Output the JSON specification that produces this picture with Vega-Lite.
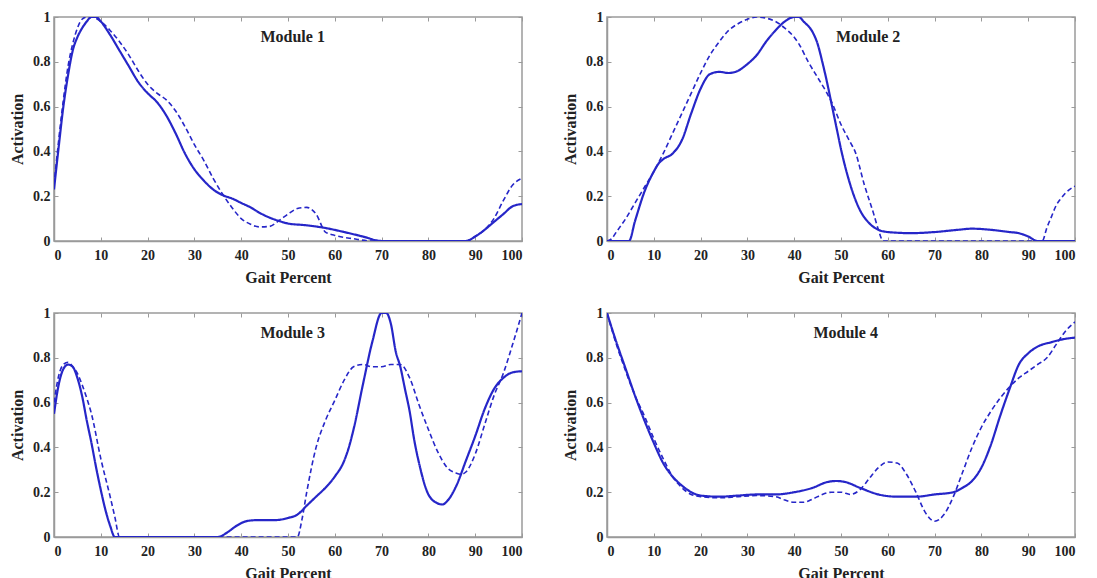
{
  "$schema": "https://vega.github.io/schema/vega-lite/v6.json",
  "background": "white",
  "padding": {"left": 8, "top": 9, "right": 5, "bottom": 0},
  "datasets": {
    "curves": [
      {"module":"Module 1","series":"solid","pct":0,"act":0.23},{"module":"Module 1","series":"solid","pct":1,"act":0.42},{"module":"Module 1","series":"solid","pct":2,"act":0.6},{"module":"Module 1","series":"solid","pct":3,"act":0.74},{"module":"Module 1","series":"solid","pct":4,"act":0.85},{"module":"Module 1","series":"solid","pct":5,"act":0.91},{"module":"Module 1","series":"solid","pct":6,"act":0.95},{"module":"Module 1","series":"solid","pct":7,"act":0.98},{"module":"Module 1","series":"solid","pct":8,"act":1.0},{"module":"Module 1","series":"solid","pct":9,"act":1.0},{"module":"Module 1","series":"solid","pct":10,"act":0.98},{"module":"Module 1","series":"solid","pct":12,"act":0.92},{"module":"Module 1","series":"solid","pct":14,"act":0.85},{"module":"Module 1","series":"solid","pct":16,"act":0.78},{"module":"Module 1","series":"solid","pct":18,"act":0.71},{"module":"Module 1","series":"solid","pct":20,"act":0.66},{"module":"Module 1","series":"solid","pct":22,"act":0.62},{"module":"Module 1","series":"solid","pct":24,"act":0.56},{"module":"Module 1","series":"solid","pct":26,"act":0.48},{"module":"Module 1","series":"solid","pct":28,"act":0.39},{"module":"Module 1","series":"solid","pct":30,"act":0.32},{"module":"Module 1","series":"solid","pct":32,"act":0.27},{"module":"Module 1","series":"solid","pct":34,"act":0.23},{"module":"Module 1","series":"solid","pct":36,"act":0.205},{"module":"Module 1","series":"solid","pct":38,"act":0.19},{"module":"Module 1","series":"solid","pct":40,"act":0.17},{"module":"Module 1","series":"solid","pct":42,"act":0.15},{"module":"Module 1","series":"solid","pct":44,"act":0.125},{"module":"Module 1","series":"solid","pct":46,"act":0.105},{"module":"Module 1","series":"solid","pct":48,"act":0.09},{"module":"Module 1","series":"solid","pct":50,"act":0.078},{"module":"Module 1","series":"solid","pct":54,"act":0.07},{"module":"Module 1","series":"solid","pct":58,"act":0.058},{"module":"Module 1","series":"solid","pct":62,"act":0.04},{"module":"Module 1","series":"solid","pct":66,"act":0.02},{"module":"Module 1","series":"solid","pct":70,"act":0.0},{"module":"Module 1","series":"solid","pct":88,"act":0.0},{"module":"Module 1","series":"solid","pct":90,"act":0.02},{"module":"Module 1","series":"solid","pct":92,"act":0.05},{"module":"Module 1","series":"solid","pct":94,"act":0.085},{"module":"Module 1","series":"solid","pct":96,"act":0.12},{"module":"Module 1","series":"solid","pct":98,"act":0.155},{"module":"Module 1","series":"solid","pct":100,"act":0.165},
      {"module":"Module 1","series":"dashed","pct":0,"act":0.25},{"module":"Module 1","series":"dashed","pct":1,"act":0.45},{"module":"Module 1","series":"dashed","pct":2,"act":0.63},{"module":"Module 1","series":"dashed","pct":3,"act":0.78},{"module":"Module 1","series":"dashed","pct":4,"act":0.88},{"module":"Module 1","series":"dashed","pct":5,"act":0.95},{"module":"Module 1","series":"dashed","pct":6,"act":0.99},{"module":"Module 1","series":"dashed","pct":7,"act":1.0},{"module":"Module 1","series":"dashed","pct":8,"act":1.0},{"module":"Module 1","series":"dashed","pct":10,"act":0.98},{"module":"Module 1","series":"dashed","pct":12,"act":0.94},{"module":"Module 1","series":"dashed","pct":14,"act":0.89},{"module":"Module 1","series":"dashed","pct":16,"act":0.83},{"module":"Module 1","series":"dashed","pct":18,"act":0.76},{"module":"Module 1","series":"dashed","pct":20,"act":0.7},{"module":"Module 1","series":"dashed","pct":22,"act":0.66},{"module":"Module 1","series":"dashed","pct":24,"act":0.63},{"module":"Module 1","series":"dashed","pct":26,"act":0.58},{"module":"Module 1","series":"dashed","pct":28,"act":0.51},{"module":"Module 1","series":"dashed","pct":30,"act":0.43},{"module":"Module 1","series":"dashed","pct":32,"act":0.36},{"module":"Module 1","series":"dashed","pct":34,"act":0.28},{"module":"Module 1","series":"dashed","pct":36,"act":0.21},{"module":"Module 1","series":"dashed","pct":38,"act":0.15},{"module":"Module 1","series":"dashed","pct":40,"act":0.1},{"module":"Module 1","series":"dashed","pct":42,"act":0.075},{"module":"Module 1","series":"dashed","pct":44,"act":0.063},{"module":"Module 1","series":"dashed","pct":46,"act":0.065},{"module":"Module 1","series":"dashed","pct":48,"act":0.09},{"module":"Module 1","series":"dashed","pct":50,"act":0.12},{"module":"Module 1","series":"dashed","pct":52,"act":0.145},{"module":"Module 1","series":"dashed","pct":54,"act":0.15},{"module":"Module 1","series":"dashed","pct":56,"act":0.12},{"module":"Module 1","series":"dashed","pct":58,"act":0.04},{"module":"Module 1","series":"dashed","pct":60,"act":0.025},{"module":"Module 1","series":"dashed","pct":64,"act":0.01},{"module":"Module 1","series":"dashed","pct":68,"act":0.0},{"module":"Module 1","series":"dashed","pct":88,"act":0.0},{"module":"Module 1","series":"dashed","pct":90,"act":0.02},{"module":"Module 1","series":"dashed","pct":92,"act":0.05},{"module":"Module 1","series":"dashed","pct":94,"act":0.1},{"module":"Module 1","series":"dashed","pct":96,"act":0.18},{"module":"Module 1","series":"dashed","pct":98,"act":0.25},{"module":"Module 1","series":"dashed","pct":100,"act":0.28},
      {"module":"Module 2","series":"solid","pct":0,"act":0.0},{"module":"Module 2","series":"solid","pct":4.7,"act":0.0},{"module":"Module 2","series":"solid","pct":6,"act":0.09},{"module":"Module 2","series":"solid","pct":8,"act":0.22},{"module":"Module 2","series":"solid","pct":10,"act":0.31},{"module":"Module 2","series":"solid","pct":11,"act":0.345},{"module":"Module 2","series":"solid","pct":12,"act":0.365},{"module":"Module 2","series":"solid","pct":14,"act":0.39},{"module":"Module 2","series":"solid","pct":16,"act":0.45},{"module":"Module 2","series":"solid","pct":18,"act":0.57},{"module":"Module 2","series":"solid","pct":20,"act":0.68},{"module":"Module 2","series":"solid","pct":22,"act":0.745},{"module":"Module 2","series":"solid","pct":24,"act":0.755},{"module":"Module 2","series":"solid","pct":26,"act":0.75},{"module":"Module 2","series":"solid","pct":28,"act":0.76},{"module":"Module 2","series":"solid","pct":30,"act":0.79},{"module":"Module 2","series":"solid","pct":32,"act":0.83},{"module":"Module 2","series":"solid","pct":34,"act":0.89},{"module":"Module 2","series":"solid","pct":36,"act":0.94},{"module":"Module 2","series":"solid","pct":38,"act":0.98},{"module":"Module 2","series":"solid","pct":40,"act":1.0},{"module":"Module 2","series":"solid","pct":41,"act":1.0},{"module":"Module 2","series":"solid","pct":42,"act":0.98},{"module":"Module 2","series":"solid","pct":44,"act":0.93},{"module":"Module 2","series":"solid","pct":45,"act":0.88},{"module":"Module 2","series":"solid","pct":46,"act":0.8},{"module":"Module 2","series":"solid","pct":47,"act":0.71},{"module":"Module 2","series":"solid","pct":48,"act":0.61},{"module":"Module 2","series":"solid","pct":49,"act":0.51},{"module":"Module 2","series":"solid","pct":50,"act":0.41},{"module":"Module 2","series":"solid","pct":52,"act":0.25},{"module":"Module 2","series":"solid","pct":54,"act":0.14},{"module":"Module 2","series":"solid","pct":56,"act":0.08},{"module":"Module 2","series":"solid","pct":58,"act":0.05},{"module":"Module 2","series":"solid","pct":60,"act":0.04},{"module":"Module 2","series":"solid","pct":65,"act":0.035},{"module":"Module 2","series":"solid","pct":70,"act":0.04},{"module":"Module 2","series":"solid","pct":75,"act":0.05},{"module":"Module 2","series":"solid","pct":78,"act":0.055},{"module":"Module 2","series":"solid","pct":82,"act":0.05},{"module":"Module 2","series":"solid","pct":86,"act":0.04},{"module":"Module 2","series":"solid","pct":88,"act":0.035},{"module":"Module 2","series":"solid","pct":90,"act":0.02},{"module":"Module 2","series":"solid","pct":92,"act":0.0},{"module":"Module 2","series":"solid","pct":100,"act":0.0},
      {"module":"Module 2","series":"dashed","pct":0,"act":0.0},{"module":"Module 2","series":"dashed","pct":1,"act":0.01},{"module":"Module 2","series":"dashed","pct":2,"act":0.04},{"module":"Module 2","series":"dashed","pct":4,"act":0.1},{"module":"Module 2","series":"dashed","pct":6,"act":0.17},{"module":"Module 2","series":"dashed","pct":8,"act":0.24},{"module":"Module 2","series":"dashed","pct":10,"act":0.31},{"module":"Module 2","series":"dashed","pct":12,"act":0.39},{"module":"Module 2","series":"dashed","pct":14,"act":0.48},{"module":"Module 2","series":"dashed","pct":16,"act":0.57},{"module":"Module 2","series":"dashed","pct":18,"act":0.66},{"module":"Module 2","series":"dashed","pct":20,"act":0.75},{"module":"Module 2","series":"dashed","pct":22,"act":0.83},{"module":"Module 2","series":"dashed","pct":24,"act":0.89},{"module":"Module 2","series":"dashed","pct":26,"act":0.94},{"module":"Module 2","series":"dashed","pct":28,"act":0.97},{"module":"Module 2","series":"dashed","pct":30,"act":0.99},{"module":"Module 2","series":"dashed","pct":32,"act":1.0},{"module":"Module 2","series":"dashed","pct":34,"act":0.995},{"module":"Module 2","series":"dashed","pct":36,"act":0.98},{"module":"Module 2","series":"dashed","pct":38,"act":0.95},{"module":"Module 2","series":"dashed","pct":40,"act":0.91},{"module":"Module 2","series":"dashed","pct":41,"act":0.88},{"module":"Module 2","series":"dashed","pct":43,"act":0.8},{"module":"Module 2","series":"dashed","pct":45,"act":0.73},{"module":"Module 2","series":"dashed","pct":47,"act":0.66},{"module":"Module 2","series":"dashed","pct":48,"act":0.62},{"module":"Module 2","series":"dashed","pct":50,"act":0.52},{"module":"Module 2","series":"dashed","pct":52,"act":0.44},{"module":"Module 2","series":"dashed","pct":53,"act":0.4},{"module":"Module 2","series":"dashed","pct":55,"act":0.25},{"module":"Module 2","series":"dashed","pct":57,"act":0.12},{"module":"Module 2","series":"dashed","pct":58,"act":0.05},{"module":"Module 2","series":"dashed","pct":59,"act":0.0},{"module":"Module 2","series":"dashed","pct":93,"act":0.0},{"module":"Module 2","series":"dashed","pct":94,"act":0.06},{"module":"Module 2","series":"dashed","pct":95,"act":0.11},{"module":"Module 2","series":"dashed","pct":96,"act":0.16},{"module":"Module 2","series":"dashed","pct":97,"act":0.19},{"module":"Module 2","series":"dashed","pct":98,"act":0.215},{"module":"Module 2","series":"dashed","pct":100,"act":0.245},
      {"module":"Module 3","series":"solid","pct":0,"act":0.55},{"module":"Module 3","series":"solid","pct":1,"act":0.68},{"module":"Module 3","series":"solid","pct":2,"act":0.75},{"module":"Module 3","series":"solid","pct":3,"act":0.77},{"module":"Module 3","series":"solid","pct":4,"act":0.76},{"module":"Module 3","series":"solid","pct":5,"act":0.71},{"module":"Module 3","series":"solid","pct":6,"act":0.63},{"module":"Module 3","series":"solid","pct":7,"act":0.52},{"module":"Module 3","series":"solid","pct":8,"act":0.42},{"module":"Module 3","series":"solid","pct":9,"act":0.31},{"module":"Module 3","series":"solid","pct":10,"act":0.21},{"module":"Module 3","series":"solid","pct":11,"act":0.12},{"module":"Module 3","series":"solid","pct":12,"act":0.05},{"module":"Module 3","series":"solid","pct":13,"act":0.0},{"module":"Module 3","series":"solid","pct":35,"act":0.0},{"module":"Module 3","series":"solid","pct":37,"act":0.02},{"module":"Module 3","series":"solid","pct":39,"act":0.05},{"module":"Module 3","series":"solid","pct":41,"act":0.07},{"module":"Module 3","series":"solid","pct":43,"act":0.075},{"module":"Module 3","series":"solid","pct":47,"act":0.075},{"module":"Module 3","series":"solid","pct":50,"act":0.085},{"module":"Module 3","series":"solid","pct":52,"act":0.1},{"module":"Module 3","series":"solid","pct":54,"act":0.14},{"module":"Module 3","series":"solid","pct":56,"act":0.18},{"module":"Module 3","series":"solid","pct":58,"act":0.22},{"module":"Module 3","series":"solid","pct":60,"act":0.27},{"module":"Module 3","series":"solid","pct":62,"act":0.34},{"module":"Module 3","series":"solid","pct":63,"act":0.4},{"module":"Module 3","series":"solid","pct":64,"act":0.48},{"module":"Module 3","series":"solid","pct":66,"act":0.68},{"module":"Module 3","series":"solid","pct":68,"act":0.87},{"module":"Module 3","series":"solid","pct":70,"act":1.0},{"module":"Module 3","series":"solid","pct":71,"act":1.0},{"module":"Module 3","series":"solid","pct":72,"act":0.95},{"module":"Module 3","series":"solid","pct":73,"act":0.83},{"module":"Module 3","series":"solid","pct":74,"act":0.76},{"module":"Module 3","series":"solid","pct":75,"act":0.66},{"module":"Module 3","series":"solid","pct":76,"act":0.56},{"module":"Module 3","series":"solid","pct":77,"act":0.43},{"module":"Module 3","series":"solid","pct":78,"act":0.33},{"module":"Module 3","series":"solid","pct":80,"act":0.19},{"module":"Module 3","series":"solid","pct":82,"act":0.15},{"module":"Module 3","series":"solid","pct":83,"act":0.145},{"module":"Module 3","series":"solid","pct":84,"act":0.16},{"module":"Module 3","series":"solid","pct":86,"act":0.23},{"module":"Module 3","series":"solid","pct":88,"act":0.34},{"module":"Module 3","series":"solid","pct":90,"act":0.45},{"module":"Module 3","series":"solid","pct":92,"act":0.57},{"module":"Module 3","series":"solid","pct":94,"act":0.66},{"module":"Module 3","series":"solid","pct":96,"act":0.71},{"module":"Module 3","series":"solid","pct":98,"act":0.735},{"module":"Module 3","series":"solid","pct":100,"act":0.74},
      {"module":"Module 3","series":"dashed","pct":0,"act":0.6},{"module":"Module 3","series":"dashed","pct":1,"act":0.72},{"module":"Module 3","series":"dashed","pct":2,"act":0.77},{"module":"Module 3","series":"dashed","pct":3,"act":0.78},{"module":"Module 3","series":"dashed","pct":4,"act":0.76},{"module":"Module 3","series":"dashed","pct":5,"act":0.73},{"module":"Module 3","series":"dashed","pct":6,"act":0.68},{"module":"Module 3","series":"dashed","pct":7,"act":0.62},{"module":"Module 3","series":"dashed","pct":8,"act":0.55},{"module":"Module 3","series":"dashed","pct":10,"act":0.35},{"module":"Module 3","series":"dashed","pct":12,"act":0.18},{"module":"Module 3","series":"dashed","pct":13,"act":0.09},{"module":"Module 3","series":"dashed","pct":14,"act":0.0},{"module":"Module 3","series":"dashed","pct":52,"act":0.0},{"module":"Module 3","series":"dashed","pct":53,"act":0.08},{"module":"Module 3","series":"dashed","pct":54,"act":0.2},{"module":"Module 3","series":"dashed","pct":56,"act":0.4},{"module":"Module 3","series":"dashed","pct":58,"act":0.52},{"module":"Module 3","series":"dashed","pct":60,"act":0.61},{"module":"Module 3","series":"dashed","pct":62,"act":0.7},{"module":"Module 3","series":"dashed","pct":64,"act":0.76},{"module":"Module 3","series":"dashed","pct":66,"act":0.77},{"module":"Module 3","series":"dashed","pct":68,"act":0.76},{"module":"Module 3","series":"dashed","pct":70,"act":0.76},{"module":"Module 3","series":"dashed","pct":72,"act":0.77},{"module":"Module 3","series":"dashed","pct":74,"act":0.77},{"module":"Module 3","series":"dashed","pct":76,"act":0.71},{"module":"Module 3","series":"dashed","pct":78,"act":0.59},{"module":"Module 3","series":"dashed","pct":80,"act":0.48},{"module":"Module 3","series":"dashed","pct":82,"act":0.38},{"module":"Module 3","series":"dashed","pct":84,"act":0.31},{"module":"Module 3","series":"dashed","pct":86,"act":0.285},{"module":"Module 3","series":"dashed","pct":87,"act":0.28},{"module":"Module 3","series":"dashed","pct":88,"act":0.29},{"module":"Module 3","series":"dashed","pct":90,"act":0.37},{"module":"Module 3","series":"dashed","pct":92,"act":0.5},{"module":"Module 3","series":"dashed","pct":94,"act":0.63},{"module":"Module 3","series":"dashed","pct":96,"act":0.73},{"module":"Module 3","series":"dashed","pct":98,"act":0.86},{"module":"Module 3","series":"dashed","pct":100,"act":1.0},
      {"module":"Module 4","series":"solid","pct":0,"act":1.0},{"module":"Module 4","series":"solid","pct":2,"act":0.87},{"module":"Module 4","series":"solid","pct":4,"act":0.75},{"module":"Module 4","series":"solid","pct":6,"act":0.63},{"module":"Module 4","series":"solid","pct":8,"act":0.52},{"module":"Module 4","series":"solid","pct":10,"act":0.42},{"module":"Module 4","series":"solid","pct":12,"act":0.33},{"module":"Module 4","series":"solid","pct":14,"act":0.27},{"module":"Module 4","series":"solid","pct":16,"act":0.23},{"module":"Module 4","series":"solid","pct":18,"act":0.2},{"module":"Module 4","series":"solid","pct":20,"act":0.185},{"module":"Module 4","series":"solid","pct":24,"act":0.18},{"module":"Module 4","series":"solid","pct":28,"act":0.185},{"module":"Module 4","series":"solid","pct":32,"act":0.19},{"module":"Module 4","series":"solid","pct":36,"act":0.19},{"module":"Module 4","series":"solid","pct":40,"act":0.2},{"module":"Module 4","series":"solid","pct":44,"act":0.22},{"module":"Module 4","series":"solid","pct":47,"act":0.245},{"module":"Module 4","series":"solid","pct":49,"act":0.25},{"module":"Module 4","series":"solid","pct":51,"act":0.245},{"module":"Module 4","series":"solid","pct":54,"act":0.22},{"module":"Module 4","series":"solid","pct":58,"act":0.19},{"module":"Module 4","series":"solid","pct":62,"act":0.18},{"module":"Module 4","series":"solid","pct":66,"act":0.18},{"module":"Module 4","series":"solid","pct":70,"act":0.19},{"module":"Module 4","series":"solid","pct":74,"act":0.2},{"module":"Module 4","series":"solid","pct":76,"act":0.22},{"module":"Module 4","series":"solid","pct":78,"act":0.25},{"module":"Module 4","series":"solid","pct":80,"act":0.31},{"module":"Module 4","series":"solid","pct":82,"act":0.41},{"module":"Module 4","series":"solid","pct":84,"act":0.54},{"module":"Module 4","series":"solid","pct":86,"act":0.66},{"module":"Module 4","series":"solid","pct":88,"act":0.77},{"module":"Module 4","series":"solid","pct":90,"act":0.82},{"module":"Module 4","series":"solid","pct":92,"act":0.85},{"module":"Module 4","series":"solid","pct":95,"act":0.87},{"module":"Module 4","series":"solid","pct":98,"act":0.885},{"module":"Module 4","series":"solid","pct":100,"act":0.89},
      {"module":"Module 4","series":"dashed","pct":0,"act":1.0},{"module":"Module 4","series":"dashed","pct":2,"act":0.86},{"module":"Module 4","series":"dashed","pct":4,"act":0.74},{"module":"Module 4","series":"dashed","pct":6,"act":0.63},{"module":"Module 4","series":"dashed","pct":8,"act":0.54},{"module":"Module 4","series":"dashed","pct":10,"act":0.44},{"module":"Module 4","series":"dashed","pct":12,"act":0.35},{"module":"Module 4","series":"dashed","pct":14,"act":0.27},{"module":"Module 4","series":"dashed","pct":16,"act":0.22},{"module":"Module 4","series":"dashed","pct":18,"act":0.19},{"module":"Module 4","series":"dashed","pct":20,"act":0.18},{"module":"Module 4","series":"dashed","pct":24,"act":0.175},{"module":"Module 4","series":"dashed","pct":28,"act":0.18},{"module":"Module 4","series":"dashed","pct":32,"act":0.185},{"module":"Module 4","series":"dashed","pct":36,"act":0.18},{"module":"Module 4","series":"dashed","pct":38,"act":0.165},{"module":"Module 4","series":"dashed","pct":40,"act":0.155},{"module":"Module 4","series":"dashed","pct":42,"act":0.155},{"module":"Module 4","series":"dashed","pct":44,"act":0.17},{"module":"Module 4","series":"dashed","pct":46,"act":0.19},{"module":"Module 4","series":"dashed","pct":48,"act":0.2},{"module":"Module 4","series":"dashed","pct":50,"act":0.2},{"module":"Module 4","series":"dashed","pct":52,"act":0.19},{"module":"Module 4","series":"dashed","pct":54,"act":0.21},{"module":"Module 4","series":"dashed","pct":56,"act":0.26},{"module":"Module 4","series":"dashed","pct":58,"act":0.31},{"module":"Module 4","series":"dashed","pct":60,"act":0.335},{"module":"Module 4","series":"dashed","pct":62,"act":0.33},{"module":"Module 4","series":"dashed","pct":64,"act":0.28},{"module":"Module 4","series":"dashed","pct":66,"act":0.2},{"module":"Module 4","series":"dashed","pct":68,"act":0.11},{"module":"Module 4","series":"dashed","pct":70,"act":0.07},{"module":"Module 4","series":"dashed","pct":72,"act":0.1},{"module":"Module 4","series":"dashed","pct":74,"act":0.18},{"module":"Module 4","series":"dashed","pct":76,"act":0.29},{"module":"Module 4","series":"dashed","pct":78,"act":0.4},{"module":"Module 4","series":"dashed","pct":80,"act":0.49},{"module":"Module 4","series":"dashed","pct":82,"act":0.56},{"module":"Module 4","series":"dashed","pct":84,"act":0.62},{"module":"Module 4","series":"dashed","pct":86,"act":0.67},{"module":"Module 4","series":"dashed","pct":88,"act":0.71},{"module":"Module 4","series":"dashed","pct":90,"act":0.74},{"module":"Module 4","series":"dashed","pct":92,"act":0.77},{"module":"Module 4","series":"dashed","pct":94,"act":0.8},{"module":"Module 4","series":"dashed","pct":96,"act":0.86},{"module":"Module 4","series":"dashed","pct":98,"act":0.92},{"module":"Module 4","series":"dashed","pct":100,"act":0.96}
    ]
  },
  "data": {"name": "curves"},
  "facet": {"field": "module", "type": "nominal", "header": {"title": null, "labels": false, "labelExpr": "''", "labelFontSize": 0, "labelPadding": 0, "titlePadding": 0}},
  "columns": 2,
  "bounds": "flush",
  "spacing": {"row": 72, "column": 85},
  "resolve": {"axis": {"x": "independent", "y": "independent"}},
  "spec": {
    "width": 468,
    "height": 224,
    "resolve": {"axis": {"x": "independent", "y": "independent"}},
    "layer": [
      {
        "mark": {"type": "line", "interpolate": "monotone", "color": "#2626c8", "clip": true},
        "encoding": {
          "x": {"field": "pct", "type": "quantitative", "scale": {"domain": [0, 100], "nice": false},
                "axis": {"orient": "bottom", "title": "Gait Percent", "values": [0,10,20,30,40,50,60,70,80,90,100]}},
          "y": {"field": "act", "type": "quantitative", "scale": {"domain": [0, 1], "nice": false},
                "axis": {"orient": "left", "title": "Activation", "values": [0,0.2,0.4,0.6,0.8,1], "format": "~g"}},
          "detail": {"field": "series"},
          "strokeDash": {"field": "series", "type": "nominal", "legend": null,
                         "scale": {"domain": ["solid", "dashed"], "range": [[1, 0], [5, 3]]}},
          "strokeWidth": {"field": "series", "type": "nominal", "legend": null,
                          "scale": {"domain": ["solid", "dashed"], "range": [2.2, 1.6]}}
        }
      },
      {
        "transform": [{"filter": "datum.pct == 0 && datum.series == 'solid' && datum.module != 'Module 2'"}],
        "mark": {"type": "text", "font": "Liberation Serif", "fontWeight": "bold", "fontSize": 16, "color": "#222222"},
        "encoding": {
          "x": {"datum": 51, "axis": null},
          "y": {"datum": 0.91, "axis": null},
          "text": {"field": "module"}
        }
      },
      {
        "transform": [{"filter": "datum.pct == 0 && datum.series == 'solid' && datum.module == 'Module 2'"}],
        "mark": {"type": "text", "font": "Liberation Serif", "fontWeight": "bold", "fontSize": 16, "color": "#222222"},
        "encoding": {
          "x": {"datum": 55.8, "axis": {"orient": "top", "labels": false, "title": null, "domain": false, "values": [0,10,20,30,40,50,60,70,80,90,100]}},
          "y": {"datum": 0.91, "axis": {"orient": "right", "labels": false, "title": null, "domain": false, "values": [0,0.2,0.4,0.6,0.8,1]}},
          "text": {"field": "module"}
        }
      }
    ]
  },
  "config": {
    "view": {"stroke": "#9a9a9a", "strokeWidth": 1.5},
    "header": {"labels": false, "title": null},
    "headerFacet": {"labels": false, "title": null, "labelFontSize": 0, "labelPadding": 0},
    "axis": {
      "grid": false,
      "domainColor": "#9a9a9a",
      "domainWidth": 1.5,
      "tickColor": "#9a9a9a",
      "tickSize": -4,
      "labelFont": "Liberation Serif",
      "labelFontWeight": "bold",
      "labelFontSize": 14,
      "labelColor": "#222222",
      "titleFont": "Liberation Serif",
      "titleFontWeight": "bold",
      "titleFontSize": 16,
      "titleColor": "#222222"
    },
    "axisX": {"labelPadding": 11, "titlePadding": 7},
    "axisY": {"labelPadding": 8, "titlePadding": 7}
  }
}
